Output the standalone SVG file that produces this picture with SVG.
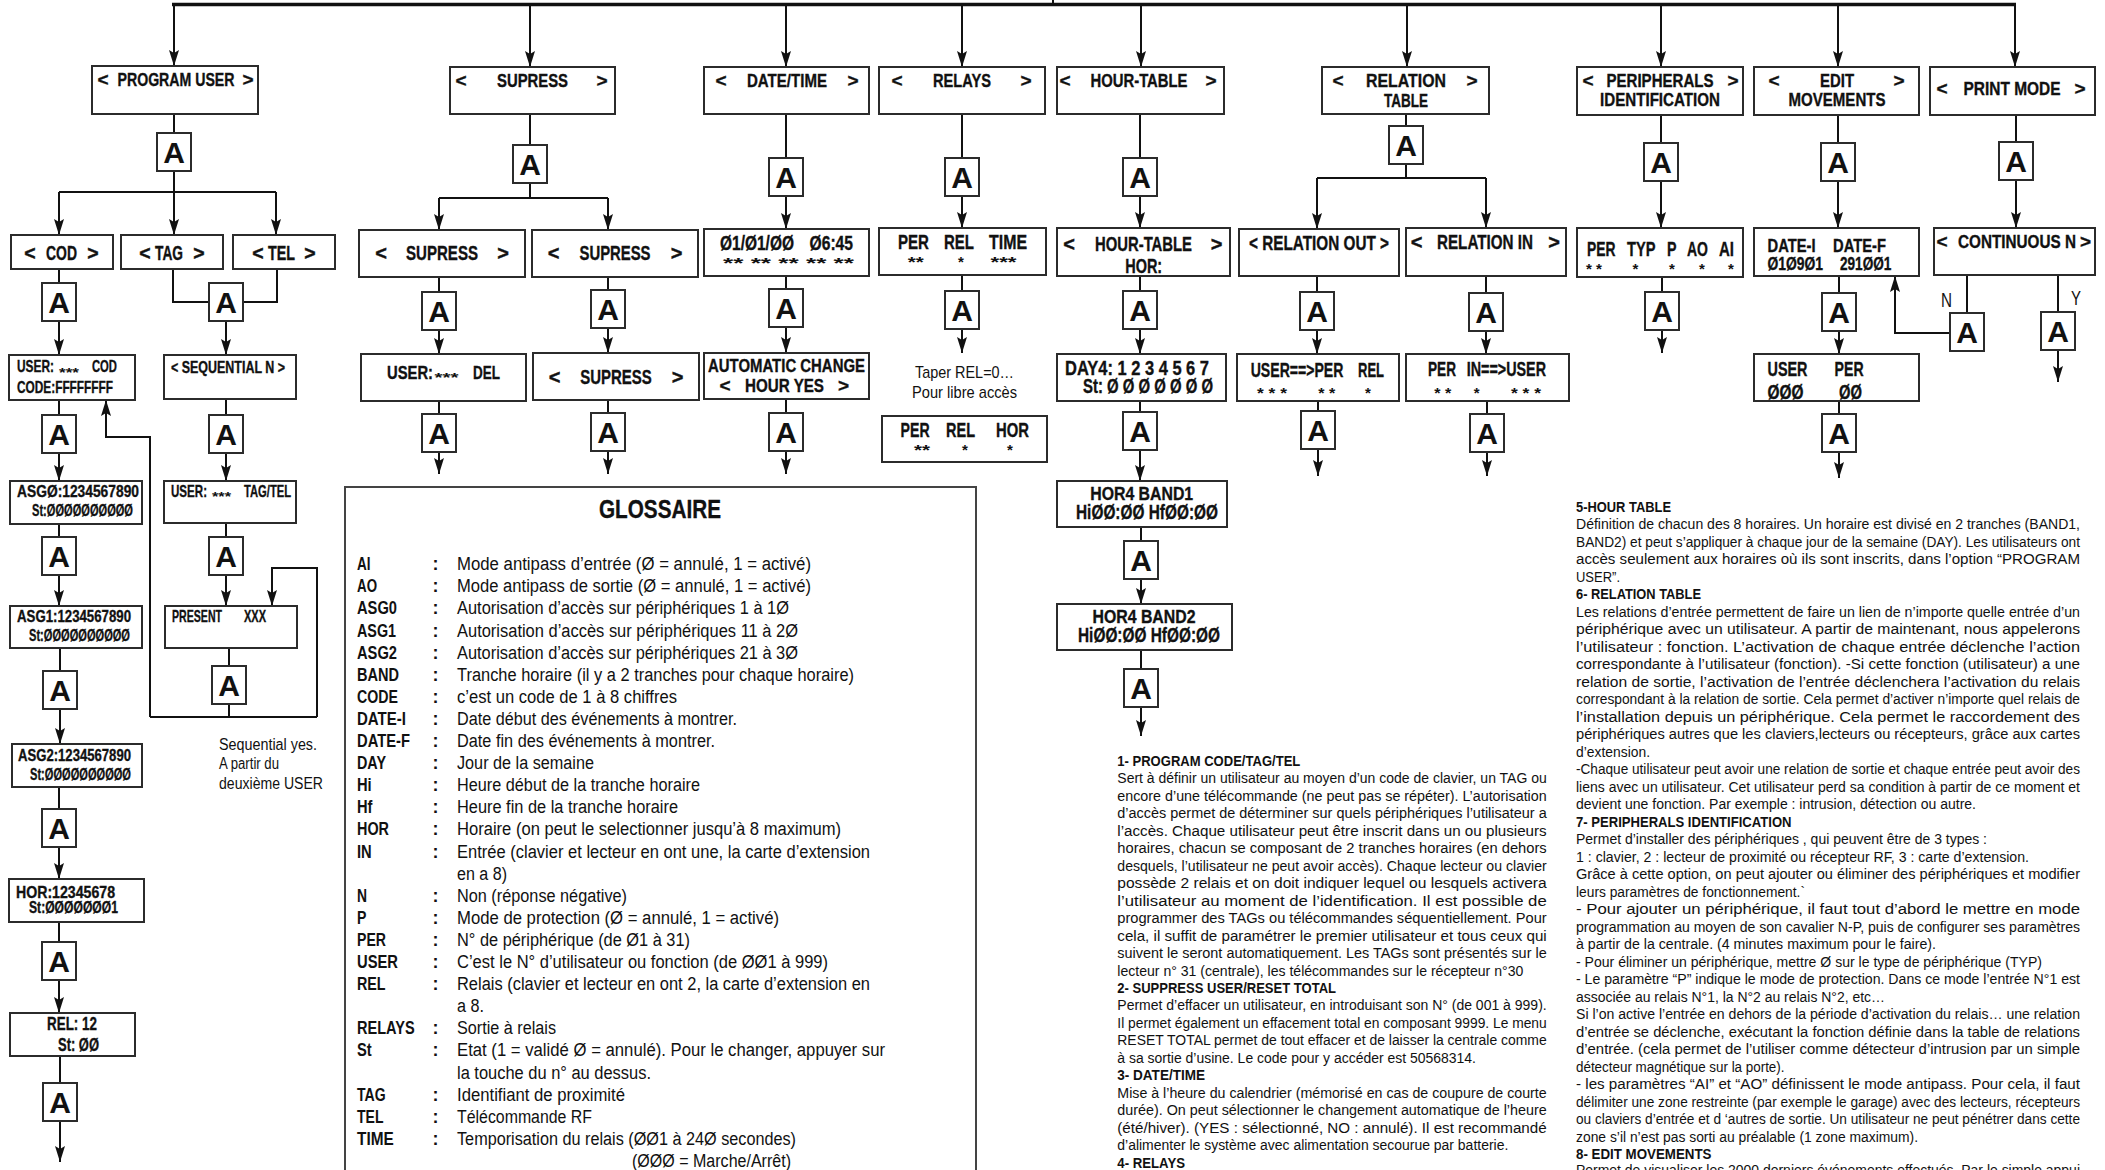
<svg xmlns="http://www.w3.org/2000/svg" width="2105" height="1170" viewBox="0 0 2105 1170">
<defs>
<style>
.bx{fill:#fff;stroke:#2b2b2b;stroke-width:2}
.t{font-family:"Liberation Sans",Arial,sans-serif;font-weight:bold;fill:#111;font-size:19px;stroke:#111;stroke-width:0.35}
.m{text-anchor:middle}
.a{font-family:"Liberation Sans",Arial,sans-serif;font-weight:bold;font-size:30px;fill:#111;text-anchor:middle}
.r{font-family:"Liberation Sans",Arial,sans-serif;font-weight:normal;fill:#111}
.s{font-family:"Liberation Sans",Arial,sans-serif;font-weight:bold;fill:#111;font-size:15px;text-anchor:middle}
.p{font-family:"Liberation Sans",Arial,sans-serif;font-size:14px;fill:#111}
.ph{font-family:"Liberation Sans",Arial,sans-serif;font-size:14px;font-weight:bold;fill:#111}
.g{font-family:"Liberation Sans",Arial,sans-serif;font-size:18px;fill:#111}
.gt{font-family:"Liberation Sans",Arial,sans-serif;font-size:18px;font-weight:bold;fill:#111}
#connectors path{fill:none;stroke:#111;stroke-width:2}
#connectors path.ar{marker-end:url(#ah)}
</style>
<marker id="ah" markerUnits="userSpaceOnUse" markerWidth="16" markerHeight="10" viewBox="0 0 16 10" refX="16" refY="5" orient="auto">
<path d="M0,0 L16,5 L0,10 L3,5 z" fill="#111"/>
</marker>
</defs>
<rect width="2105" height="1170" fill="#fff"/>

<g id="connectors">
<path d="M172,4.5 H2016" style="stroke-width:3.5"/>
<path d="M1053,0 V4"/>
<path class="ar" d="M174,6 V66"/>
<path class="ar" d="M530,6 V67"/>
<path class="ar" d="M786,6 V67"/>
<path class="ar" d="M962,6 V67"/>
<path class="ar" d="M1141,6 V67"/>
<path class="ar" d="M1407,6 V67"/>
<path class="ar" d="M1661,6 V67"/>
<path class="ar" d="M1838,6 V67"/>
<path class="ar" d="M2015,6 V67"/>
<path d="M174,114 V133"/>
<path d="M174,171 V192"/>
<path d="M59,192 H276"/>
<path class="ar" d="M59,192 V235"/>
<path class="ar" d="M174,192 V235"/>
<path class="ar" d="M276,192 V235"/>
<path d="M59,269 V283"/>
<path class="ar" d="M59,321 V355"/>
<path d="M173,269 V302 H209"/>
<path d="M277,269 V302 H243"/>
<path class="ar" d="M226,321 V355"/>
<path d="M226,399 V415"/>
<path class="ar" d="M226,453 V481"/>
<path d="M226,523 V537"/>
<path class="ar" d="M226,575 V606"/>
<path d="M229,648 V666"/>
<path d="M229,704 V717"/>
<path d="M150,717 H317"/>
<path class="ar" d="M150,717 V437 H106 V400"/>
<path class="ar" d="M317,717 V568 H272 V606"/>
<path d="M59,400 V415"/>
<path class="ar" d="M59,453 V481"/>
<path d="M59,524 V537"/>
<path class="ar" d="M59,575 V606"/>
<path d="M60,648 V671"/>
<path class="ar" d="M60,709 V744"/>
<path d="M59,787 V809"/>
<path class="ar" d="M59,847 V879"/>
<path d="M59,922 V942"/>
<path class="ar" d="M59,980 V1013"/>
<path d="M60,1056 V1083"/>
<path class="ar" d="M60,1121 V1162"/>
<path d="M530,114 V145"/>
<path d="M530,183 V198"/>
<path d="M439,198 H608"/>
<path class="ar" d="M439,198 V230"/>
<path class="ar" d="M608,198 V230"/>
<path d="M439,277 V292"/>
<path class="ar" d="M439,330 V354"/>
<path d="M439,401 V414"/>
<path class="ar" d="M439,452 V474"/>
<path d="M608,277 V290"/>
<path class="ar" d="M608,328 V353"/>
<path d="M608,400 V413"/>
<path class="ar" d="M608,451 V474"/>
<path d="M786,114 V158"/>
<path class="ar" d="M786,196 V229"/>
<path d="M786,276 V289"/>
<path class="ar" d="M786,327 V353"/>
<path d="M786,399 V413"/>
<path class="ar" d="M786,451 V474"/>
<path d="M962,114 V158"/>
<path class="ar" d="M962,196 V228"/>
<path d="M962,275 V291"/>
<path class="ar" d="M962,329 V353"/>
<path d="M1140,114 V158"/>
<path class="ar" d="M1140,196 V228"/>
<path d="M1140,276 V291"/>
<path class="ar" d="M1140,329 V354"/>
<path d="M1140,401 V412"/>
<path class="ar" d="M1140,450 V481"/>
<path d="M1141,527 V541"/>
<path class="ar" d="M1141,579 V604"/>
<path d="M1141,650 V669"/>
<path class="ar" d="M1141,707 V736"/>
<path d="M1406,114 V126"/>
<path d="M1406,164 V178"/>
<path d="M1317,178 H1486"/>
<path class="ar" d="M1317,178 V229"/>
<path class="ar" d="M1486,178 V228"/>
<path d="M1317,276 V292"/>
<path class="ar" d="M1317,330 V354"/>
<path d="M1318,401 V411"/>
<path class="ar" d="M1318,449 V476"/>
<path d="M1486,276 V293"/>
<path class="ar" d="M1486,331 V354"/>
<path d="M1487,401 V414"/>
<path class="ar" d="M1487,452 V476"/>
<path d="M1661,115 V143"/>
<path class="ar" d="M1661,181 V228"/>
<path d="M1662,277 V292"/>
<path class="ar" d="M1662,330 V353"/>
<path d="M1838,115 V143"/>
<path class="ar" d="M1838,181 V228"/>
<path d="M1839,276 V293"/>
<path class="ar" d="M1839,331 V354"/>
<path d="M1839,401 V414"/>
<path class="ar" d="M1839,452 V478"/>
<path d="M2016,115 V142"/>
<path class="ar" d="M2016,180 V228"/>
<path d="M1967,275 V313"/>
<path class="ar" d="M1950,333 H1895 V276"/>
<path d="M2058,275 V312"/>
<path class="ar" d="M2058,350 V382"/>
</g>

<g id="a-pu"><rect class="bx" x="157" y="133" width="34" height="38"/><text class="a" x="174" y="163">A</text></g>
<g id="a-cod"><rect class="bx" x="42" y="283" width="34" height="38"/><text class="a" x="59" y="313">A</text></g>
<g id="a-tagtel"><rect class="bx" x="209" y="283" width="34" height="38"/><text class="a" x="226" y="313">A</text></g>
<g id="a-usercod"><rect class="bx" x="42" y="415" width="34" height="38"/><text class="a" x="59" y="445">A</text></g>
<g id="a-seq"><rect class="bx" x="209" y="415" width="34" height="38"/><text class="a" x="226" y="445">A</text></g>
<g id="a-asg0"><rect class="bx" x="42" y="537" width="34" height="38"/><text class="a" x="59" y="567">A</text></g>
<g id="a-usertag"><rect class="bx" x="209" y="537" width="34" height="38"/><text class="a" x="226" y="567">A</text></g>
<g id="a-asg1"><rect class="bx" x="43" y="671" width="34" height="38"/><text class="a" x="60" y="701">A</text></g>
<g id="a-present"><rect class="bx" x="212" y="666" width="34" height="38"/><text class="a" x="229" y="696">A</text></g>
<g id="a-asg2"><rect class="bx" x="42" y="809" width="34" height="38"/><text class="a" x="59" y="839">A</text></g>
<g id="a-hor"><rect class="bx" x="42" y="942" width="34" height="38"/><text class="a" x="59" y="972">A</text></g>
<g id="a-rel"><rect class="bx" x="43" y="1083" width="34" height="38"/><text class="a" x="60" y="1113">A</text></g>
<g id="a-sup"><rect class="bx" x="513" y="145" width="34" height="38"/><text class="a" x="530" y="175">A</text></g>
<g id="a-sup1"><rect class="bx" x="422" y="292" width="34" height="38"/><text class="a" x="439" y="322">A</text></g>
<g id="a-sup1b"><rect class="bx" x="422" y="414" width="34" height="38"/><text class="a" x="439" y="444">A</text></g>
<g id="a-sup2"><rect class="bx" x="591" y="290" width="34" height="38"/><text class="a" x="608" y="320">A</text></g>
<g id="a-sup2b"><rect class="bx" x="591" y="413" width="34" height="38"/><text class="a" x="608" y="443">A</text></g>
<g id="a-dt1"><rect class="bx" x="769" y="158" width="34" height="38"/><text class="a" x="786" y="188">A</text></g>
<g id="a-dt2"><rect class="bx" x="769" y="289" width="34" height="38"/><text class="a" x="786" y="319">A</text></g>
<g id="a-dt3"><rect class="bx" x="769" y="413" width="34" height="38"/><text class="a" x="786" y="443">A</text></g>
<g id="a-rl1"><rect class="bx" x="945" y="158" width="34" height="38"/><text class="a" x="962" y="188">A</text></g>
<g id="a-rl2"><rect class="bx" x="945" y="291" width="34" height="38"/><text class="a" x="962" y="321">A</text></g>
<g id="a-ht1"><rect class="bx" x="1123" y="158" width="34" height="38"/><text class="a" x="1140" y="188">A</text></g>
<g id="a-ht2"><rect class="bx" x="1123" y="291" width="34" height="38"/><text class="a" x="1140" y="321">A</text></g>
<g id="a-ht3"><rect class="bx" x="1123" y="412" width="34" height="38"/><text class="a" x="1140" y="442">A</text></g>
<g id="a-ht4"><rect class="bx" x="1124" y="541" width="34" height="38"/><text class="a" x="1141" y="571">A</text></g>
<g id="a-ht5"><rect class="bx" x="1124" y="669" width="34" height="38"/><text class="a" x="1141" y="699">A</text></g>
<g id="a-rt"><rect class="bx" x="1389" y="126" width="34" height="38"/><text class="a" x="1406" y="156">A</text></g>
<g id="a-ro1"><rect class="bx" x="1300" y="292" width="34" height="38"/><text class="a" x="1317" y="322">A</text></g>
<g id="a-ro2"><rect class="bx" x="1301" y="411" width="34" height="38"/><text class="a" x="1318" y="441">A</text></g>
<g id="a-ri1"><rect class="bx" x="1469" y="293" width="34" height="38"/><text class="a" x="1486" y="323">A</text></g>
<g id="a-ri2"><rect class="bx" x="1470" y="414" width="34" height="38"/><text class="a" x="1487" y="444">A</text></g>
<g id="a-pe1"><rect class="bx" x="1644" y="143" width="34" height="38"/><text class="a" x="1661" y="173">A</text></g>
<g id="a-pe2"><rect class="bx" x="1645" y="292" width="34" height="38"/><text class="a" x="1662" y="322">A</text></g>
<g id="a-ed1"><rect class="bx" x="1821" y="143" width="34" height="38"/><text class="a" x="1838" y="173">A</text></g>
<g id="a-ed2"><rect class="bx" x="1822" y="293" width="34" height="38"/><text class="a" x="1839" y="323">A</text></g>
<g id="a-ed3"><rect class="bx" x="1822" y="414" width="34" height="38"/><text class="a" x="1839" y="444">A</text></g>
<g id="a-pm"><rect class="bx" x="1999" y="142" width="34" height="38"/><text class="a" x="2016" y="172">A</text></g>
<g id="a-n"><rect class="bx" x="1950" y="313" width="34" height="38"/><text class="a" x="1967" y="343">A</text></g>
<g id="a-y"><rect class="bx" x="2041" y="312" width="34" height="38"/><text class="a" x="2058" y="342">A</text></g>

<g id="n-program-user"><rect class="bx" x="92" y="66" width="166" height="48"/>
<text class="t m" x="103" y="85.8">&lt;</text><text class="t m" x="176" y="85.8" textLength="117" lengthAdjust="spacingAndGlyphs">PROGRAM USER</text><text class="t m" x="248" y="85.8">&gt;</text></g>
<g id="n-supress"><rect class="bx" x="450" y="67" width="165" height="47"/>
<text class="t m" x="461" y="86.8">&lt;</text><text class="t m" x="532.5" y="86.8" textLength="71" lengthAdjust="spacingAndGlyphs">SUPRESS</text><text class="t m" x="602" y="86.8">&gt;</text></g>
<g id="n-datetime"><rect class="bx" x="704" y="67" width="165" height="47"/>
<text class="t m" x="721" y="86.8">&lt;</text><text class="t m" x="787" y="86.8" textLength="80" lengthAdjust="spacingAndGlyphs">DATE/TIME</text><text class="t m" x="853" y="86.8">&gt;</text></g>
<g id="n-relays"><rect class="bx" x="879" y="67" width="166" height="47"/>
<text class="t m" x="897" y="86.8">&lt;</text><text class="t m" x="962" y="86.8" textLength="58" lengthAdjust="spacingAndGlyphs">RELAYS</text><text class="t m" x="1026" y="86.8">&gt;</text></g>
<g id="n-hour-table"><rect class="bx" x="1057" y="67" width="167" height="47"/>
<text class="t m" x="1065" y="86.8">&lt;</text><text class="t m" x="1139" y="86.8" textLength="97" lengthAdjust="spacingAndGlyphs">HOUR-TABLE</text><text class="t m" x="1211" y="86.8">&gt;</text></g>
<g id="n-relation-table"><rect class="bx" x="1322" y="67" width="167" height="47"/>
<text class="t m" x="1338" y="86.8">&lt;</text><text class="t m" x="1406" y="86.8" textLength="80" lengthAdjust="spacingAndGlyphs">RELATION</text><text class="t m" x="1472" y="86.8">&gt;</text>
<text class="t m" x="1406" y="106.8" textLength="44" lengthAdjust="spacingAndGlyphs">TABLE</text></g>
<g id="n-peripherals"><rect class="bx" x="1577" y="67" width="166" height="48"/>
<text class="t m" x="1588" y="86.8">&lt;</text><text class="t m" x="1660" y="86.8" textLength="107" lengthAdjust="spacingAndGlyphs">PERIPHERALS</text><text class="t m" x="1733" y="86.8">&gt;</text>
<text class="t m" x="1660" y="105.8" textLength="120" lengthAdjust="spacingAndGlyphs">IDENTIFICATION</text></g>
<g id="n-edit-movements"><rect class="bx" x="1754" y="67" width="165" height="48"/>
<text class="t m" x="1774" y="86.8">&lt;</text><text class="t m" x="1837" y="86.8" textLength="34" lengthAdjust="spacingAndGlyphs">EDIT</text><text class="t m" x="1899" y="86.8">&gt;</text>
<text class="t m" x="1837" y="105.8" textLength="97" lengthAdjust="spacingAndGlyphs">MOVEMENTS</text></g>
<g id="n-print-mode"><rect class="bx" x="1930" y="67" width="165" height="48"/>
<text class="t m" x="1942" y="94.8">&lt;</text><text class="t m" x="2012" y="94.8" textLength="97" lengthAdjust="spacingAndGlyphs">PRINT MODE</text><text class="t m" x="2080" y="94.8">&gt;</text></g>

<g id="n-cod"><rect class="bx" x="11" y="235" width="102" height="34"/>
<text class="t m" x="30" y="259.7" style="font-size:19.5px">&lt;</text><text class="t m" x="61.5" y="259.7" style="font-size:19.5px" textLength="31" lengthAdjust="spacingAndGlyphs">COD</text><text class="t m" x="93" y="259.7" style="font-size:19.5px">&gt;</text></g>
<g id="n-tag"><rect class="bx" x="121" y="235" width="102" height="34"/>
<text class="t m" x="145" y="259.7" style="font-size:19.5px">&lt;</text><text class="t m" x="169" y="259.7" style="font-size:19.5px" textLength="28" lengthAdjust="spacingAndGlyphs">TAG</text><text class="t m" x="199" y="259.7" style="font-size:19.5px">&gt;</text></g>
<g id="n-tel"><rect class="bx" x="233" y="235" width="102" height="34"/>
<text class="t m" x="258" y="259.7" style="font-size:19.5px">&lt;</text><text class="t m" x="281.5" y="259.7" style="font-size:19.5px" textLength="27" lengthAdjust="spacingAndGlyphs">TEL</text><text class="t m" x="310" y="259.7" style="font-size:19.5px">&gt;</text></g>
<g id="n-user-cod"><rect class="bx" x="9" y="355" width="126" height="45"/>
<text class="t" x="17" y="372" style="font-size:17px" textLength="37" lengthAdjust="spacingAndGlyphs">USER:</text>
<text class="s" x="69" y="377" style="font-size:13px" textLength="20" lengthAdjust="spacingAndGlyphs">***</text>
<text class="t" x="92" y="372" style="font-size:17px" textLength="25" lengthAdjust="spacingAndGlyphs">COD</text>
<text class="t" x="17" y="392.7" style="font-size:17px" textLength="96" lengthAdjust="spacingAndGlyphs">CODE:FFFFFFFF</text></g>
<g id="n-sequential"><rect class="bx" x="164" y="355" width="132" height="44"/>
<text class="t m" x="228" y="372.5" style="font-size:16.5px" textLength="114" lengthAdjust="spacingAndGlyphs">&lt; SEQUENTIAL N &gt;</text></g>
<g id="n-user-tag"><rect class="bx" x="164" y="481" width="132" height="42"/>
<text class="t" x="171" y="497" style="font-size:17px" textLength="36" lengthAdjust="spacingAndGlyphs">USER:</text>
<text class="s" x="221.5" y="500.7" style="font-size:13px" textLength="19" lengthAdjust="spacingAndGlyphs">***</text>
<text class="t" x="244" y="497" style="font-size:17px" textLength="47" lengthAdjust="spacingAndGlyphs">TAG/TEL</text></g>
<g id="n-present"><rect class="bx" x="165" y="606" width="132" height="42"/>
<text class="t" x="172" y="622" style="font-size:17px" textLength="50" lengthAdjust="spacingAndGlyphs">PRESENT</text>
<text class="t" x="244" y="622" style="font-size:17px" textLength="22" lengthAdjust="spacingAndGlyphs">XXX</text></g>
<g id="n-asg0"><rect class="bx" x="10" y="481" width="132" height="43"/>
<text class="t" x="17" y="497" style="font-size:16.5px" textLength="122" lengthAdjust="spacingAndGlyphs">ASGØ:1234567890</text>
<text class="t" x="32" y="516" style="font-size:16.5px" textLength="101" lengthAdjust="spacingAndGlyphs">St:ØØØØØØØØØØ</text></g>
<g id="n-asg1"><rect class="bx" x="10" y="606" width="132" height="42"/>
<text class="t" x="17" y="622" style="font-size:16.5px" textLength="114" lengthAdjust="spacingAndGlyphs">ASG1:1234567890</text>
<text class="t" x="29" y="641" style="font-size:16.5px" textLength="101" lengthAdjust="spacingAndGlyphs">St:ØØØØØØØØØØ</text></g>
<g id="n-asg2"><rect class="bx" x="12" y="744" width="130" height="43"/>
<text class="t" x="18" y="761" style="font-size:16.5px" textLength="113" lengthAdjust="spacingAndGlyphs">ASG2:1234567890</text>
<text class="t" x="30" y="780" style="font-size:16.5px" textLength="101" lengthAdjust="spacingAndGlyphs">St:ØØØØØØØØØØ</text></g>
<g id="n-hor"><rect class="bx" x="9" y="879" width="135" height="43"/>
<text class="t" x="16" y="898" style="font-size:16.5px" textLength="99" lengthAdjust="spacingAndGlyphs">HOR:12345678</text>
<text class="t" x="29" y="912.5" style="font-size:16.5px" textLength="89" lengthAdjust="spacingAndGlyphs">St:ØØØØØØØ1</text></g>
<g id="n-rel"><rect class="bx" x="10" y="1013" width="125" height="43"/>
<text class="t" x="47" y="1029.6" style="font-size:18.5px" textLength="50" lengthAdjust="spacingAndGlyphs">REL: 12</text>
<text class="t" x="58" y="1050.6" style="font-size:18.5px" textLength="41" lengthAdjust="spacingAndGlyphs">St: ØØ</text></g>
<g id="note-sequential">
<text class="r" x="219" y="749.7" style="font-size:16px" textLength="98" lengthAdjust="spacingAndGlyphs">Sequential yes.</text>
<text class="r" x="219" y="769.3" style="font-size:16px" textLength="60" lengthAdjust="spacingAndGlyphs">A partir du</text>
<text class="r" x="219" y="788.8" style="font-size:16px" textLength="104" lengthAdjust="spacingAndGlyphs">deuxième USER</text></g>

<g id="n-supress-1"><rect class="bx" x="359" y="230" width="166" height="47"/>
<text class="t m" x="381" y="260" style="font-size:20px">&lt;</text><text class="t m" x="442" y="260" style="font-size:20px" textLength="72" lengthAdjust="spacingAndGlyphs">SUPRESS</text><text class="t m" x="503" y="260" style="font-size:20px">&gt;</text></g>
<g id="n-supress-2"><rect class="bx" x="532" y="230" width="166" height="47"/>
<text class="t m" x="553.5" y="260" style="font-size:20px">&lt;</text><text class="t m" x="615" y="260" style="font-size:20px" textLength="71" lengthAdjust="spacingAndGlyphs">SUPRESS</text><text class="t m" x="676.5" y="260" style="font-size:20px">&gt;</text></g>
<g id="n-user-del"><rect class="bx" x="361" y="354" width="165" height="47"/>
<text class="t" x="387" y="378.5" textLength="46" lengthAdjust="spacingAndGlyphs">USER:</text>
<text class="s" x="446.5" y="382.4" style="font-size:13px" textLength="24" lengthAdjust="spacingAndGlyphs">***</text>
<text class="t" x="473" y="378.5" textLength="27" lengthAdjust="spacingAndGlyphs">DEL</text></g>
<g id="n-supress-3"><rect class="bx" x="533" y="353" width="166" height="47"/>
<text class="t m" x="554.5" y="384" style="font-size:20px">&lt;</text><text class="t m" x="616" y="384" style="font-size:20px" textLength="71.5" lengthAdjust="spacingAndGlyphs">SUPRESS</text><text class="t m" x="677.5" y="384" style="font-size:20px">&gt;</text></g>

<g id="n-date"><rect class="bx" x="704" y="229" width="165" height="47"/>
<text class="t" x="720" y="249.5" style="font-size:20px" textLength="74" lengthAdjust="spacingAndGlyphs">Ø1/Ø1/ØØ</text>
<text class="t" x="809.5" y="249.5" style="font-size:20px" textLength="43.5" lengthAdjust="spacingAndGlyphs">Ø6:45</text>
<text class="s" x="788.5" y="267.8" textLength="131" lengthAdjust="spacingAndGlyphs">** ** ** ** **</text></g>
<g id="n-auto-change"><rect class="bx" x="704" y="353" width="165" height="46"/>
<text class="t m" x="786.5" y="371.8" textLength="157" lengthAdjust="spacingAndGlyphs">AUTOMATIC CHANGE</text>
<text class="t m" x="725" y="391.8">&lt;</text><text class="t m" x="784.5" y="391.8" textLength="79" lengthAdjust="spacingAndGlyphs">HOUR YES</text><text class="t m" x="843.5" y="391.8">&gt;</text></g>

<g id="n-per-rel-time"><rect class="bx" x="879" y="228" width="167" height="47"/>
<text class="t" x="898" y="248.9" style="font-size:20px" textLength="31" lengthAdjust="spacingAndGlyphs">PER</text>
<text class="t" x="944" y="248.9" style="font-size:20px" textLength="30" lengthAdjust="spacingAndGlyphs">REL</text>
<text class="t" x="989" y="248.9" style="font-size:20px" textLength="38" lengthAdjust="spacingAndGlyphs">TIME</text>
<text class="s" x="915.7" y="266.8" textLength="16" lengthAdjust="spacingAndGlyphs">**</text>
<text class="s" x="961" y="266.8">*</text>
<text class="s" x="1003.5" y="266.8" textLength="26" lengthAdjust="spacingAndGlyphs">***</text></g>
<g id="note-relays">
<text class="r m" x="964.5" y="378" style="font-size:17px" textLength="99" lengthAdjust="spacingAndGlyphs">Taper REL=0…</text>
<text class="r m" x="964.5" y="398" style="font-size:17px" textLength="105" lengthAdjust="spacingAndGlyphs">Pour libre accès</text></g>
<g id="n-per-rel-hor"><rect class="bx" x="882" y="416" width="165" height="46"/>
<text class="t" x="900.6" y="436.5" style="font-size:20px" textLength="29" lengthAdjust="spacingAndGlyphs">PER</text>
<text class="t" x="946" y="436.5" style="font-size:20px" textLength="29" lengthAdjust="spacingAndGlyphs">REL</text>
<text class="t" x="996" y="436.5" style="font-size:20px" textLength="33" lengthAdjust="spacingAndGlyphs">HOR</text>
<text class="s" x="922" y="454.5" textLength="16" lengthAdjust="spacingAndGlyphs">**</text>
<text class="s" x="965" y="454.5">*</text>
<text class="s" x="1010" y="454.5">*</text></g>

<g id="n-hour-table-hor"><rect class="bx" x="1057" y="228" width="173" height="48"/>
<text class="t m" x="1069" y="250.8" style="font-size:20px">&lt;</text><text class="t m" x="1143.5" y="250.8" style="font-size:20px" textLength="97" lengthAdjust="spacingAndGlyphs">HOUR-TABLE</text><text class="t m" x="1216.7" y="250.8" style="font-size:20px">&gt;</text>
<text class="t m" x="1143.7" y="272.9" style="font-size:20px" textLength="37" lengthAdjust="spacingAndGlyphs">HOR:</text></g>
<g id="n-day"><rect class="bx" x="1057" y="354" width="169" height="47"/>
<text class="t" x="1065" y="374.7" style="font-size:20px" textLength="144" lengthAdjust="spacingAndGlyphs">DAY4: 1 2 3 4 5 6 7</text>
<text class="t" x="1083" y="392.6" style="font-size:20px" textLength="130" lengthAdjust="spacingAndGlyphs">St: Ø Ø Ø Ø Ø Ø Ø</text></g>
<g id="n-band1"><rect class="bx" x="1057" y="481" width="170" height="46"/>
<text class="t m" x="1141.7" y="500.4" textLength="103" lengthAdjust="spacingAndGlyphs">HOR4  BAND1</text>
<text class="t m" x="1147" y="519.2" style="font-size:20px" textLength="142" lengthAdjust="spacingAndGlyphs">HiØØ:ØØ  HfØØ:ØØ</text></g>
<g id="n-band2"><rect class="bx" x="1057" y="604" width="175" height="46"/>
<text class="t m" x="1144" y="623.2" textLength="103" lengthAdjust="spacingAndGlyphs">HOR4  BAND2</text>
<text class="t m" x="1149" y="641.8" style="font-size:20px" textLength="142" lengthAdjust="spacingAndGlyphs">HiØØ:ØØ  HfØØ:ØØ</text></g>

<g id="n-relation-out"><rect class="bx" x="1239" y="229" width="160" height="47"/>
<text class="t m" x="1319" y="249.7" style="font-size:20px" textLength="140" lengthAdjust="spacingAndGlyphs">&lt; RELATION OUT &gt;</text></g>
<g id="n-relation-in"><rect class="bx" x="1406" y="228" width="160" height="48"/>
<text class="t m" x="1416.7" y="248.6" style="font-size:20px">&lt;</text><text class="t m" x="1485" y="248.6" style="font-size:20px" textLength="96" lengthAdjust="spacingAndGlyphs">RELATION IN</text><text class="t m" x="1554" y="248.6" style="font-size:20px">&gt;</text></g>
<g id="n-user-per-rel"><rect class="bx" x="1237" y="354" width="162" height="47"/>
<text class="t" x="1250.7" y="377.2" style="font-size:20px" textLength="92.7" lengthAdjust="spacingAndGlyphs">USER==&gt;PER</text>
<text class="t" x="1358" y="377.2" style="font-size:20px" textLength="26" lengthAdjust="spacingAndGlyphs">REL</text>
<text class="s" x="1272" y="398" textLength="30" lengthAdjust="spacingAndGlyphs">* * *</text>
<text class="s" x="1326.7" y="398" textLength="17" lengthAdjust="spacingAndGlyphs">* *</text>
<text class="s" x="1368" y="398">*</text></g>
<g id="n-per-in-user"><rect class="bx" x="1406" y="354" width="163" height="47"/>
<text class="t" x="1428" y="376.2" style="font-size:20px" textLength="28" lengthAdjust="spacingAndGlyphs">PER</text>
<text class="t" x="1466.7" y="376.2" style="font-size:20px" textLength="79.3" lengthAdjust="spacingAndGlyphs">IN==&gt;USER</text>
<text class="s" x="1442.7" y="398" textLength="17" lengthAdjust="spacingAndGlyphs">* *</text>
<text class="s" x="1476.7" y="398">*</text>
<text class="s" x="1526" y="398" textLength="30" lengthAdjust="spacingAndGlyphs">* * *</text></g>

<g id="n-per-typ"><rect class="bx" x="1577" y="228" width="166" height="49"/>
<text class="t" x="1587" y="255.5" style="font-size:20px" textLength="28.5" lengthAdjust="spacingAndGlyphs">PER</text>
<text class="t" x="1627" y="255.5" style="font-size:20px" textLength="28.5" lengthAdjust="spacingAndGlyphs">TYP</text>
<text class="t" x="1667" y="255.5" style="font-size:20px" textLength="9.5" lengthAdjust="spacingAndGlyphs">P</text>
<text class="t" x="1687" y="255.5" style="font-size:20px" textLength="21" lengthAdjust="spacingAndGlyphs">AO</text>
<text class="t" x="1719" y="255.5" style="font-size:20px" textLength="15" lengthAdjust="spacingAndGlyphs">AI</text>
<text class="s" x="1594" y="273.5" textLength="16" lengthAdjust="spacingAndGlyphs">* *</text>
<text class="s" x="1635.4" y="273.5">*</text>
<text class="s" x="1672" y="273.5">*</text>
<text class="s" x="1702" y="273.5">*</text>
<text class="s" x="1731" y="273.5">*</text></g>
<g id="n-date-if"><rect class="bx" x="1754" y="228" width="165" height="48"/>
<text class="t" x="1767.5" y="251.8" textLength="48" lengthAdjust="spacingAndGlyphs">DATE-I</text>
<text class="t" x="1833" y="251.8" textLength="53" lengthAdjust="spacingAndGlyphs">DATE-F</text>
<text class="t" x="1767.5" y="269.5" style="font-size:18px" textLength="55.6" lengthAdjust="spacingAndGlyphs">Ø1Ø9Ø1</text>
<text class="t" x="1840" y="269.5" style="font-size:18px" textLength="51.4" lengthAdjust="spacingAndGlyphs">291ØØ1</text></g>
<g id="n-user-per"><rect class="bx" x="1754" y="354" width="165" height="47"/>
<text class="t" x="1767.5" y="376.3" style="font-size:19.5px" textLength="40" lengthAdjust="spacingAndGlyphs">USER</text>
<text class="t" x="1834.6" y="376.3" style="font-size:19.5px" textLength="29" lengthAdjust="spacingAndGlyphs">PER</text>
<text class="t" x="1767.5" y="398.7" style="font-size:19.5px" textLength="36" lengthAdjust="spacingAndGlyphs">ØØØ</text>
<text class="t" x="1839" y="398.7" style="font-size:19.5px" textLength="23" lengthAdjust="spacingAndGlyphs">ØØ</text></g>
<g id="n-continuous"><rect class="bx" x="1934" y="228" width="161" height="47"/>
<text class="t m" x="1942" y="247.5">&lt;</text><text class="t" x="1958" y="247.5" textLength="118" lengthAdjust="spacingAndGlyphs">CONTINUOUS N</text><text class="t m" x="2085.5" y="247.5">&gt;</text></g>
<g id="labels-ny">
<text class="r m" x="1946.5" y="306.7" style="font-size:20px" textLength="11" lengthAdjust="spacingAndGlyphs">N</text>
<text class="r m" x="2076" y="304.7" style="font-size:20px" textLength="10" lengthAdjust="spacingAndGlyphs">Y</text></g>

<g id="glossaire">
<rect x="345" y="487" width="631" height="700" fill="#fff" stroke="#444" stroke-width="2"/>
<text class="t m" x="660" y="518.3" style="font-size:26px" textLength="122" lengthAdjust="spacingAndGlyphs">GLOSSAIRE</text>
<g class="gt">
<text x="357" y="570.2" textLength="13.5" lengthAdjust="spacingAndGlyphs">AI</text>
<text x="357" y="592.3" textLength="20" lengthAdjust="spacingAndGlyphs">AO</text>
<text x="357" y="614.4" textLength="40" lengthAdjust="spacingAndGlyphs">ASG0</text>
<text x="357" y="636.5" textLength="39" lengthAdjust="spacingAndGlyphs">ASG1</text>
<text x="357" y="658.6" textLength="40" lengthAdjust="spacingAndGlyphs">ASG2</text>
<text x="357" y="680.7" textLength="42" lengthAdjust="spacingAndGlyphs">BAND</text>
<text x="357" y="702.8" textLength="41" lengthAdjust="spacingAndGlyphs">CODE</text>
<text x="357" y="724.9" textLength="49" lengthAdjust="spacingAndGlyphs">DATE-I</text>
<text x="357" y="747" textLength="53" lengthAdjust="spacingAndGlyphs">DATE-F</text>
<text x="357" y="769.1" textLength="29" lengthAdjust="spacingAndGlyphs">DAY</text>
<text x="357" y="791.2" textLength="14.7" lengthAdjust="spacingAndGlyphs">Hi</text>
<text x="357" y="813.3" textLength="15.5" lengthAdjust="spacingAndGlyphs">Hf</text>
<text x="357" y="835.4" textLength="32" lengthAdjust="spacingAndGlyphs">HOR</text>
<text x="357" y="857.5" textLength="14.7" lengthAdjust="spacingAndGlyphs">IN</text>
<text x="357" y="901.7" textLength="10" lengthAdjust="spacingAndGlyphs">N</text>
<text x="357" y="923.8" textLength="9.4" lengthAdjust="spacingAndGlyphs">P</text>
<text x="357" y="945.9" textLength="29" lengthAdjust="spacingAndGlyphs">PER</text>
<text x="357" y="968" textLength="41" lengthAdjust="spacingAndGlyphs">USER</text>
<text x="357" y="990.1" textLength="28.6" lengthAdjust="spacingAndGlyphs">REL</text>
<text x="357" y="1034.3" textLength="57.6" lengthAdjust="spacingAndGlyphs">RELAYS</text>
<text x="357" y="1056.4" textLength="14.7" lengthAdjust="spacingAndGlyphs">St</text>
<text x="357" y="1100.6" textLength="28.6" lengthAdjust="spacingAndGlyphs">TAG</text>
<text x="357" y="1122.7" textLength="26.5" lengthAdjust="spacingAndGlyphs">TEL</text>
<text x="357" y="1144.8" textLength="36.7" lengthAdjust="spacingAndGlyphs">TIME</text>
</g>
<g class="gt m">
<text x="435.5" y="570.2">:</text><text x="435.5" y="592.3">:</text><text x="435.5" y="614.4">:</text><text x="435.5" y="636.5">:</text>
<text x="435.5" y="658.6">:</text><text x="435.5" y="680.7">:</text><text x="435.5" y="702.8">:</text><text x="435.5" y="724.9">:</text>
<text x="435.5" y="747">:</text><text x="435.5" y="769.1">:</text><text x="435.5" y="791.2">:</text><text x="435.5" y="813.3">:</text>
<text x="435.5" y="835.4">:</text><text x="435.5" y="857.5">:</text><text x="435.5" y="901.7">:</text><text x="435.5" y="923.8">:</text>
<text x="435.5" y="945.9">:</text><text x="435.5" y="968">:</text><text x="435.5" y="990.1">:</text><text x="435.5" y="1034.3">:</text>
<text x="435.5" y="1056.4">:</text><text x="435.5" y="1100.6">:</text><text x="435.5" y="1122.7">:</text><text x="435.5" y="1144.8">:</text>
</g>
<g class="g">
<text x="457" y="570.2" textLength="354" lengthAdjust="spacingAndGlyphs">Mode antipass d’entrée  (Ø = annulé,  1 = activé)</text>
<text x="457" y="592.3" textLength="354" lengthAdjust="spacingAndGlyphs">Mode antipass de sortie (Ø = annulé,  1 = activé)</text>
<text x="457" y="614.4" textLength="332" lengthAdjust="spacingAndGlyphs">Autorisation d’accès sur périphériques 1 à 1Ø</text>
<text x="457" y="636.5" textLength="341" lengthAdjust="spacingAndGlyphs">Autorisation d’accès sur périphériques 11 à 2Ø</text>
<text x="457" y="658.6" textLength="341" lengthAdjust="spacingAndGlyphs">Autorisation d’accès sur périphériques 21 à 3Ø</text>
<text x="457" y="680.7" textLength="397" lengthAdjust="spacingAndGlyphs">Tranche horaire (il y a 2 tranches pour chaque horaire)</text>
<text x="457" y="702.8" textLength="220" lengthAdjust="spacingAndGlyphs">c’est un code de 1 à 8 chiffres</text>
<text x="457" y="724.9" textLength="280" lengthAdjust="spacingAndGlyphs">Date début des événements à montrer.</text>
<text x="457" y="747" textLength="258" lengthAdjust="spacingAndGlyphs">Date fin des événements à montrer.</text>
<text x="457" y="769.1" textLength="137" lengthAdjust="spacingAndGlyphs">Jour de la semaine</text>
<text x="457" y="791.2" textLength="243" lengthAdjust="spacingAndGlyphs">Heure début de la tranche horaire</text>
<text x="457" y="813.3" textLength="221" lengthAdjust="spacingAndGlyphs">Heure fin de la tranche horaire</text>
<text x="457" y="835.4" textLength="384" lengthAdjust="spacingAndGlyphs">Horaire (on peut le selectionner jusqu’à 8 maximum)</text>
<text x="457" y="857.5" textLength="413" lengthAdjust="spacingAndGlyphs">Entrée (clavier et lecteur  en ont une, la carte d’extension</text>
<text x="457" y="879.6" textLength="50" lengthAdjust="spacingAndGlyphs">en a 8)</text>
<text x="457" y="901.7" textLength="170" lengthAdjust="spacingAndGlyphs">Non (réponse négative)</text>
<text x="457" y="923.8" textLength="322" lengthAdjust="spacingAndGlyphs">Mode de protection (Ø = annulé,  1 = activé)</text>
<text x="457" y="945.9" textLength="233" lengthAdjust="spacingAndGlyphs">N° de périphérique (de Ø1 à 31)</text>
<text x="457" y="968" textLength="371" lengthAdjust="spacingAndGlyphs">C’est le N° d’utilisateur ou fonction (de ØØ1 à 999)</text>
<text x="457" y="990.1" textLength="413" lengthAdjust="spacingAndGlyphs">Relais (clavier et lecteur en ont 2, la carte d’extension en</text>
<text x="457" y="1012.2" textLength="27" lengthAdjust="spacingAndGlyphs">a 8.</text>
<text x="457" y="1034.3" textLength="99" lengthAdjust="spacingAndGlyphs">Sortie à relais</text>
<text x="457" y="1056.4" textLength="428" lengthAdjust="spacingAndGlyphs">Etat (1 = validé   Ø = annulé). Pour le changer, appuyer sur</text>
<text x="457" y="1078.5" textLength="194" lengthAdjust="spacingAndGlyphs">la touche du n° au dessus.</text>
<text x="457" y="1100.6" textLength="168" lengthAdjust="spacingAndGlyphs">Identifiant de proximité</text>
<text x="457" y="1122.7" textLength="135" lengthAdjust="spacingAndGlyphs">Télécommande RF</text>
<text x="457" y="1144.8" textLength="339" lengthAdjust="spacingAndGlyphs">Temporisation du relais (ØØ1 à 24Ø secondes)</text>
<text x="632" y="1166.9" textLength="159" lengthAdjust="spacingAndGlyphs">(ØØØ = Marche/Arrêt)</text>
</g>
</g>

<g id="text-1-4">
<text class="ph" x="1117.3" y="765.7" textLength="183" lengthAdjust="spacingAndGlyphs">1- PROGRAM CODE/TAG/TEL</text>
<g class="p">
<text x="1117.3" y="783.2" textLength="429.4" lengthAdjust="spacingAndGlyphs">Sert à définir un utilisateur au moyen d’un code de clavier, un TAG ou</text>
<text x="1117.3" y="800.7" textLength="429.4" lengthAdjust="spacingAndGlyphs">encore d’une télécommande (ne peut pas se répéter). L’autorisation</text>
<text x="1117.3" y="818.1" textLength="429.4" lengthAdjust="spacingAndGlyphs">d’accès permet de déterminer sur quels périphériques l’utilisateur a</text>
<text x="1117.3" y="835.6" textLength="429.4" lengthAdjust="spacingAndGlyphs">l’accès. Chaque utilisateur peut être inscrit dans un ou plusieurs</text>
<text x="1117.3" y="853.1" textLength="429.4" lengthAdjust="spacingAndGlyphs">horaires, chacun se composant de 2 tranches horaires (en dehors</text>
<text x="1117.3" y="870.6" textLength="429.4" lengthAdjust="spacingAndGlyphs">desquels, l’utilisateur ne peut avoir accès). Chaque lecteur ou clavier</text>
<text x="1117.3" y="888.1" textLength="429.4" lengthAdjust="spacingAndGlyphs">possède 2 relais et on doit indiquer lequel ou lesquels activera</text>
<text x="1117.3" y="905.5" textLength="429.4" lengthAdjust="spacingAndGlyphs">l’utilisateur au moment de l’identification. Il est possible de</text>
<text x="1117.3" y="923" textLength="429.4" lengthAdjust="spacingAndGlyphs">programmer des TAGs ou télécommandes séquentiellement. Pour</text>
<text x="1117.3" y="940.5" textLength="429.4" lengthAdjust="spacingAndGlyphs">cela, il suffit de paramétrer le premier utilisateur et tous ceux qui</text>
<text x="1117.3" y="958" textLength="429.4" lengthAdjust="spacingAndGlyphs">suivent le seront automatiquement. Les TAGs sont présentés sur le</text>
<text x="1117.3" y="975.5" textLength="406" lengthAdjust="spacingAndGlyphs">lecteur n° 31 (centrale), les télécommandes sur le récepteur n°30</text>
</g>
<text class="ph" x="1117.3" y="992.9" textLength="218.7" lengthAdjust="spacingAndGlyphs">2- SUPPRESS USER/RESET TOTAL</text>
<g class="p">
<text x="1117.3" y="1010.4" textLength="429.4" lengthAdjust="spacingAndGlyphs">Permet d’effacer un utilisateur, en introduisant son N° (de 001 à 999).</text>
<text x="1117.3" y="1027.9" textLength="429.4" lengthAdjust="spacingAndGlyphs">Il permet également un effacement total en composant 9999. Le menu</text>
<text x="1117.3" y="1045.4" textLength="429.4" lengthAdjust="spacingAndGlyphs">RESET TOTAL permet de tout effacer et de laisser la centrale comme</text>
<text x="1117.3" y="1062.9" textLength="358.7" lengthAdjust="spacingAndGlyphs">à sa sortie d’usine. Le code pour y accéder est 50568314.</text>
</g>
<text class="ph" x="1117.3" y="1080.3" textLength="87.7" lengthAdjust="spacingAndGlyphs">3- DATE/TIME</text>
<g class="p">
<text x="1117.3" y="1097.8" textLength="429.4" lengthAdjust="spacingAndGlyphs">Mise à l’heure du calendrier (mémorisé en cas de coupure de courte</text>
<text x="1117.3" y="1115.3" textLength="429.4" lengthAdjust="spacingAndGlyphs">durée). On peut sélectionner le changement automatique de l’heure</text>
<text x="1117.3" y="1132.8" textLength="429.4" lengthAdjust="spacingAndGlyphs">(été/hiver). (YES : sélectionné, NO : annulé). Il est recommandé</text>
<text x="1117.3" y="1150.3" textLength="391" lengthAdjust="spacingAndGlyphs">d’alimenter le système avec alimentation secourue par batterie.</text>
</g>
<text class="ph" x="1117.3" y="1167.7" textLength="67.7" lengthAdjust="spacingAndGlyphs">4- RELAYS</text>
</g>

<g id="text-5-8">
<text class="ph" x="1576" y="511.7" textLength="95" lengthAdjust="spacingAndGlyphs">5-HOUR TABLE</text>
<g class="p">
<text x="1576" y="529.2" textLength="504" lengthAdjust="spacingAndGlyphs">Définition de chacun des 8 horaires. Un horaire est divisé en 2 tranches (BAND1,</text>
<text x="1576" y="546.7" textLength="504" lengthAdjust="spacingAndGlyphs">BAND2) et peut s’appliquer à chaque jour de la semaine (DAY). Les utilisateurs ont</text>
<text x="1576" y="564.2" textLength="504" lengthAdjust="spacingAndGlyphs">accès seulement aux horaires où ils sont inscrits, dans l’option “PROGRAM</text>
<text x="1576" y="581.7" textLength="44" lengthAdjust="spacingAndGlyphs">USER”.</text>
</g>
<text class="ph" x="1576" y="599.2" textLength="125" lengthAdjust="spacingAndGlyphs">6- RELATION TABLE</text>
<g class="p">
<text x="1576" y="616.7" textLength="504" lengthAdjust="spacingAndGlyphs">Les relations d’entrée permettent de faire un lien de n’importe quelle entrée d’un</text>
<text x="1576" y="634.2" textLength="504" lengthAdjust="spacingAndGlyphs">périphérique avec un utilisateur. A partir de maintenant, nous appelerons</text>
<text x="1576" y="651.7" textLength="504" lengthAdjust="spacingAndGlyphs">l’utilisateur :  fonction.  L’activation de chaque entrée déclenche l’action</text>
<text x="1576" y="669.2" textLength="504" lengthAdjust="spacingAndGlyphs">correspondante à l’utilisateur (fonction). -Si cette fonction (utilisateur) a une</text>
<text x="1576" y="686.7" textLength="504" lengthAdjust="spacingAndGlyphs">relation de sortie, l’activation de l’entrée déclenchera l’activation du relais</text>
<text x="1576" y="704.2" textLength="504" lengthAdjust="spacingAndGlyphs">correspondant à la relation de sortie. Cela permet d’activer n’importe quel relais de</text>
<text x="1576" y="721.7" textLength="504" lengthAdjust="spacingAndGlyphs">l’installation depuis un périphérique. Cela permet le raccordement des</text>
<text x="1576" y="739.2" textLength="504" lengthAdjust="spacingAndGlyphs">périphériques autres que les claviers,lecteurs ou récepteurs, grâce aux cartes</text>
<text x="1576" y="756.7" textLength="74" lengthAdjust="spacingAndGlyphs">d’extension.</text>
<text x="1576" y="774.2" textLength="504" lengthAdjust="spacingAndGlyphs">-Chaque utilisateur peut avoir une relation de sortie et chaque entrée peut avoir des</text>
<text x="1576" y="791.7" textLength="504" lengthAdjust="spacingAndGlyphs">liens avec un utilisateur. Cet utilisateur perd sa condition à partir de ce moment et</text>
<text x="1576" y="809.2" textLength="400" lengthAdjust="spacingAndGlyphs">devient une fonction. Par exemple : intrusion, détection ou autre.</text>
</g>
<text class="ph" x="1576" y="826.7" textLength="215.5" lengthAdjust="spacingAndGlyphs">7- PERIPHERALS IDENTIFICATION</text>
<g class="p">
<text x="1576" y="844.2" textLength="411" lengthAdjust="spacingAndGlyphs">Permet d’installer des périphériques , qui peuvent être de 3 types :</text>
<text x="1576" y="861.7" textLength="453" lengthAdjust="spacingAndGlyphs">1 : clavier, 2 : lecteur de proximité ou récepteur RF,  3 : carte d’extension.</text>
<text x="1576" y="879.2" textLength="504" lengthAdjust="spacingAndGlyphs">Grâce à cette option, on peut ajouter ou éliminer des périphériques et modifier</text>
<text x="1576" y="896.7" textLength="229" lengthAdjust="spacingAndGlyphs">leurs paramètres de fonctionnement.`</text>
<text x="1576" y="914.2" textLength="504" lengthAdjust="spacingAndGlyphs">- Pour ajouter un périphérique, il faut tout d’abord le mettre en mode</text>
<text x="1576" y="931.7" textLength="504" lengthAdjust="spacingAndGlyphs">programmation au moyen de son cavalier N-P, puis de configurer ses paramètres</text>
<text x="1576" y="949.2" textLength="360" lengthAdjust="spacingAndGlyphs">à partir de la centrale. (4 minutes maximum pour le  faire).</text>
<text x="1576" y="966.7" textLength="466" lengthAdjust="spacingAndGlyphs">- Pour éliminer un périphérique, mettre Ø sur le type de périphérique (TYP)</text>
<text x="1576" y="984.2" textLength="504" lengthAdjust="spacingAndGlyphs">- Le paramètre “P” indique le mode de protection. Dans ce mode l’entrée N°1 est</text>
<text x="1576" y="1001.7" textLength="309" lengthAdjust="spacingAndGlyphs">associée au relais N°1, la N°2 au relais N°2, etc…</text>
<text x="1576" y="1019.2" textLength="504" lengthAdjust="spacingAndGlyphs">Si l’on active l’entrée en dehors de la période d’activation du relais… une relation</text>
<text x="1576" y="1036.7" textLength="504" lengthAdjust="spacingAndGlyphs">d’entrée se déclenche, exécutant la fonction définie dans la table de relations</text>
<text x="1576" y="1054.2" textLength="504" lengthAdjust="spacingAndGlyphs">d’entrée. (cela permet de l’utiliser comme détecteur d’intrusion par un simple</text>
<text x="1576" y="1071.7" textLength="208.5" lengthAdjust="spacingAndGlyphs">détecteur magnétique sur la porte).</text>
<text x="1576" y="1089.2" textLength="504" lengthAdjust="spacingAndGlyphs">- les paramètres “AI” et “AO” définissent le mode antipass. Pour cela, il faut</text>
<text x="1576" y="1106.7" textLength="504" lengthAdjust="spacingAndGlyphs">délimiter une zone restreinte (par exemple le garage) avec des lecteurs, récepteurs</text>
<text x="1576" y="1124.2" textLength="504" lengthAdjust="spacingAndGlyphs">ou claviers d’entrée et d ‘autres de sortie. Un utilisateur ne peut pénétrer dans cette</text>
<text x="1576" y="1141.7" textLength="342" lengthAdjust="spacingAndGlyphs">zone s’il n’est pas sorti au préalable (1 zone maximum).</text>
</g>
<text class="ph" x="1576" y="1159.2" textLength="135.5" lengthAdjust="spacingAndGlyphs">8- EDIT MOVEMENTS</text>
<text class="p" x="1576" y="1175" textLength="504" lengthAdjust="spacingAndGlyphs">Permet de visualiser les 2000 derniers événements effectués. Par le simple appui</text>
</g>
</svg>
